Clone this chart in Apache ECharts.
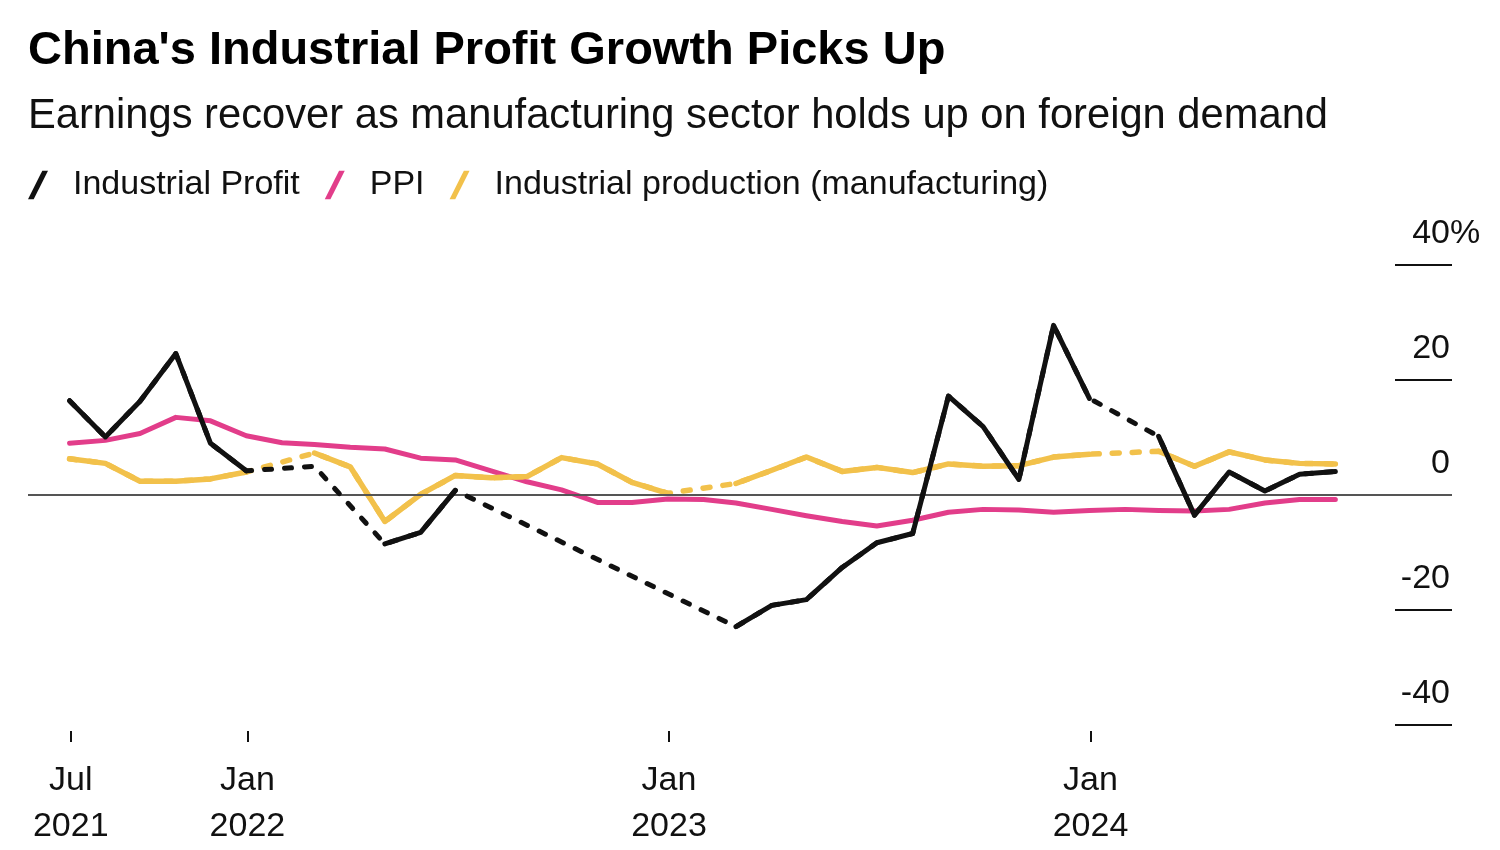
<!DOCTYPE html>
<html><head><meta charset="utf-8">
<script src="https://cdn.jsdelivr.net/npm/echarts@6/dist/echarts.min.js"></script>
<style>html,body{margin:0;padding:0;background:#fff}#chart{width:1500px;height:850px}</style>
</head><body><div id="chart"></div>
<script>
// ---- data (month, y/y %) ----
const months = [
  '2021-07','2021-08','2021-09','2021-10','2021-11','2021-12',
  '2022-01','2022-02','2022-03','2022-04','2022-05','2022-06','2022-07','2022-08','2022-09','2022-10','2022-11','2022-12',
  '2023-01','2023-02','2023-03','2023-04','2023-05','2023-06','2023-07','2023-08','2023-09','2023-10','2023-11','2023-12',
  '2024-01','2024-02','2024-03','2024-04','2024-05','2024-06','2024-07'
];
const industrialProfit = [
  16.4, 10.1, 16.3, 24.6, 9.0, 4.2,
  null, 5.0, null, -8.5, -6.5, 0.8, null, null, null, null, null, null,
  null, -22.9, -19.2, -18.2, -12.6, -8.3, -6.7, 17.2, 11.9, 2.7, 29.5, 16.8,
  null, 10.2, -3.5, 4.0, 0.7, 3.6, 4.1
];
const ppi = [
  9.0, 9.5, 10.7, 13.5, 12.9, 10.3,
  9.1, 8.8, 8.3, 8.0, 6.4, 6.1, 4.2, 2.3, 0.9, -1.3, -1.3, -0.7,
  -0.8, -1.4, -2.5, -3.6, -4.6, -5.4, -4.4, -3.0, -2.5, -2.6, -3.0, -2.7,
  -2.5, -2.7, -2.8, -2.5, -1.4, -0.8, -0.8
];
const industrialProduction = [
  6.3, 5.5, 2.4, 2.4, 2.8, 4.0,
  null, 7.3, 4.9, -4.6, 0.1, 3.4, 3.0, 3.2, 6.5, 5.4, 2.2, 0.3,
  null, 2.0, 4.3, 6.6, 4.1, 4.8, 3.9, 5.4, 5.0, 5.1, 6.6, 7.1,
  null, 7.6, 5.0, 7.5, 6.1, 5.5, 5.4
];
const seriesNames = ['Industrial Profit', 'PPI', 'Industrial production (manufacturing)'];
const yTicks = [-40, -20, 0, 20, 40];
const xTickDates = ['2021-08-01', '2022-01-01', '2023-01-01', '2024-01-01'];
const xTickLabels = ['Jul\n2021', 'Jan\n2022', 'Jan\n2023', 'Jan\n2024'];
const xRange = ['2021-06-25', '2024-11-09'];

// ---- helpers ----
const FONT = "'Liberation Sans', Arial, Helvetica, sans-serif";
const C_BLACK = '#111111', C_PINK = '#e23d8a', C_YELLOW = '#f2c14b';
function monthEnd(s) { const [y, m] = s.split('-').map(Number); return Date.UTC(y, m, 0); }
function day(s) { const [y, m, d] = s.split('-').map(Number); return Date.UTC(y, m - 1, d); }
const xs = months.map(monthEnd);
const pts = arr => arr.map((v, i) => [xs[i], v]);
const xTickValues = xTickDates.map(day);
const labelMap = {};
xTickValues.forEach((v, i) => { labelMap[v] = xTickLabels[i]; });

function lineSeries(name, data, color, dashed, z, width) {
  return {
    name, type: 'line', data: pts(data), z,
    symbol: 'none', showSymbol: false, connectNulls: dashed, silent: true,
    itemStyle: { color },
    lineStyle: dashed
      ? { color, width, type: [7, 13], cap: 'round', join: 'round' }
      : { color, width, type: 'solid', cap: 'round', join: 'round' }
  };
}

const chart = echarts.init(document.getElementById('chart'));
const ppiSeries = lineSeries(seriesNames[1], ppi, C_PINK, false, 2, 5);
ppiSeries.markLine = {
  silent: true, symbol: 'none', animation: false,
  label: { show: false },
  lineStyle: { color: '#555', width: 2, type: 'solid' },
  data: [{ yAxis: 0 }]
};

const yLabelStyle = { fontFamily: FONT, fontSize: 34, color: '#111', lineHeight: 34 };

chart.setOption({
  animation: false,
  backgroundColor: '#fff',
  title: [
    { text: "China's Industrial Profit Growth Picks Up", left: 28, top: 28, padding: 0,
      textStyle: { fontFamily: FONT, fontSize: 47, fontWeight: 'bold', color: '#000', lineHeight: 47 } },
    { text: 'Earnings recover as manufacturing sector holds up on foreign demand', left: 28, top: 96, padding: 0,
      textStyle: { fontFamily: FONT, fontSize: 41.7, fontWeight: 'normal', color: '#111', lineHeight: 42 } }
  ],
  legend: {
    left: 28, top: 168, padding: 0, itemWidth: 20, itemHeight: 30, itemGap: 25,
    selectedMode: false,
    icon: 'path://M0,30L15,0L21,0L6,30Z',
    itemStyle: { borderWidth: 0 },
    textStyle: { fontFamily: FONT, fontSize: 34, color: '#111', padding: [0, 0, 0, 20] },
    data: [
      { name: seriesNames[0], itemStyle: { color: C_BLACK } },
      { name: seriesNames[1], itemStyle: { color: C_PINK } },
      { name: seriesNames[2], itemStyle: { color: C_YELLOW } }
    ]
  },
  grid: { left: 28, right: 48, top: 265, bottom: 125, containLabel: false },
  xAxis: {
    type: 'value', min: day(xRange[0]), max: day(xRange[1]), offset: 6,
    axisLine: { show: false, onZero: false }, splitLine: { show: false },
    axisTick: { show: true, length: 11, customValues: xTickValues, lineStyle: { color: '#111', width: 2 } },
    axisLabel: { customValues: xTickValues, formatter: v => labelMap[v] || '', fontFamily: FONT, fontSize: 34,
      lineHeight: 46, color: '#111', margin: 27 }
  },
  yAxis: {
    type: 'value', position: 'right', min: yTicks[0], max: yTicks[yTicks.length - 1], interval: 20,
    axisLine: { show: false }, splitLine: { show: false },
    axisTick: { show: true, inside: true, length: 57, lineStyle: { color: '#111', width: 2 } },
    axisLabel: {
      inside: true, margin: 62, align: 'left', fontFamily: FONT, fontSize: 34, color: '#111',
      verticalAlign: 'bottom', lineHeight: 34, padding: [0, 0, 14, 0],
      formatter: v => (v === yTicks[yTicks.length - 1] ? '{n|' + v + '}{p|%}' : '{n|' + v + '}'),
      rich: {
        n: Object.assign({ width: 60, align: 'right' }, yLabelStyle),
        p: Object.assign({ align: 'right' }, yLabelStyle)
      }
    }
  },
  series: [
    ppiSeries,
    lineSeries(seriesNames[2], industrialProduction, C_YELLOW, true, 3, 5.5),
    lineSeries(seriesNames[2], industrialProduction, C_YELLOW, false, 4, 5.5),
    lineSeries(seriesNames[0], industrialProfit, C_BLACK, true, 5, 5),
    lineSeries(seriesNames[0], industrialProfit, C_BLACK, false, 6, 5)
  ]
});
</script>
</body></html>
